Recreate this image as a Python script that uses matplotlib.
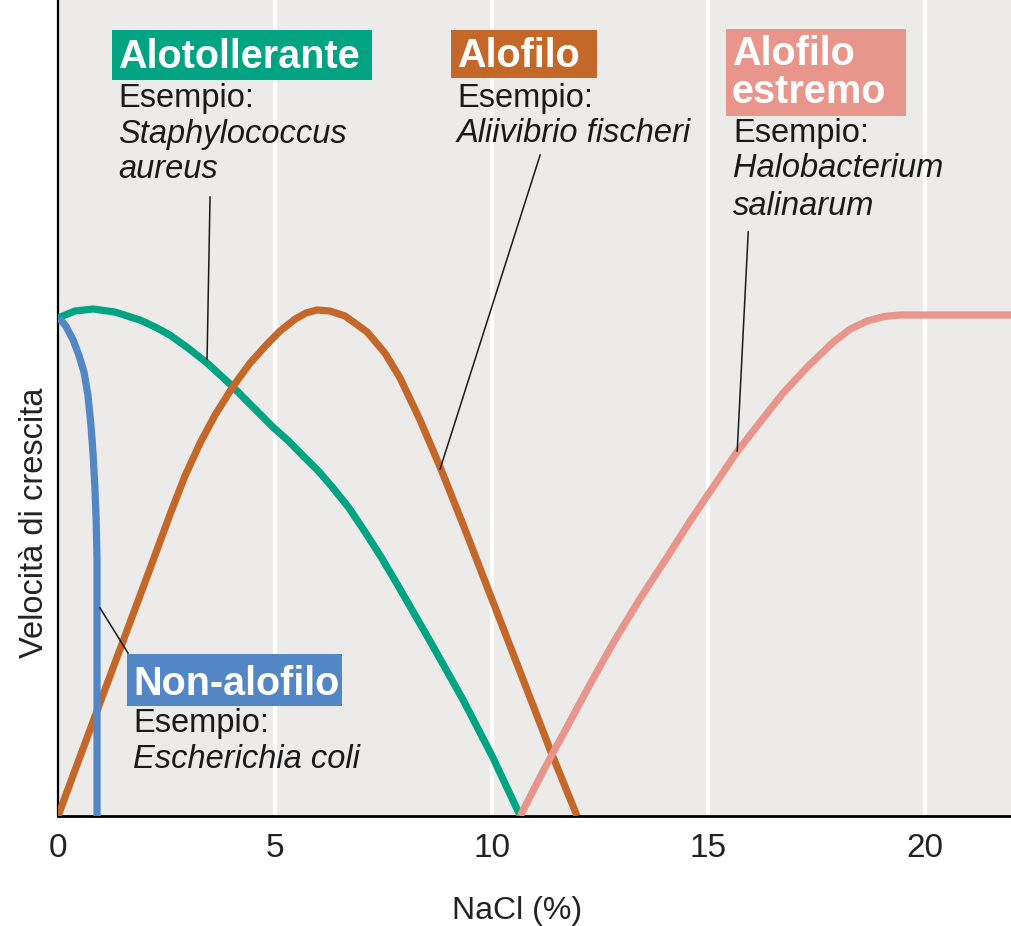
import matplotlib
matplotlib.use("Agg")
import matplotlib.pyplot as plt
from matplotlib.patches import Rectangle
from matplotlib.transforms import Affine2D

# ---- data ----
nonalo_x = [0.02, 0.18, 0.35, 0.48, 0.60, 0.69, 0.76, 0.81, 0.85, 0.88, 0.90, 0.90]
nonalo_y = [0.994, 0.978, 0.950, 0.920, 0.886, 0.840, 0.780, 0.721, 0.657, 0.591, 0.511, 0.0]

aloto_x = [0.0, 0.39, 0.81, 1.31, 1.89, 2.24, 2.58, 3.00, 3.44, 3.97, 4.43, 4.96, 5.31,
           5.65, 6.00, 6.34, 6.71, 7.08, 7.45, 7.82, 8.58, 9.34, 10.01, 10.66]
aloto_y = [0.994, 1.008, 1.012, 1.006, 0.990, 0.976, 0.960, 0.934, 0.904, 0.862, 0.822,
           0.776, 0.749, 0.719, 0.689, 0.655, 0.615, 0.567, 0.517, 0.463, 0.349, 0.232,
           0.120, 0.0]

alofilo_x = [0.0, 0.97, 2.12, 2.58, 2.93, 3.28, 3.62, 4.04, 4.43, 4.78, 5.12, 5.47, 5.72,
             5.97, 6.27, 6.62, 7.13, 7.54, 7.89, 8.35, 8.81, 9.39, 9.97, 10.66, 11.35, 11.97]
alofilo_y = [0.0, 0.226, 0.493, 0.601, 0.679, 0.745, 0.800, 0.858, 0.904, 0.938, 0.968,
             0.992, 1.004, 1.010, 1.008, 0.998, 0.966, 0.924, 0.874, 0.790, 0.697, 0.571,
             0.441, 0.287, 0.132, 0.0]

estremo_x = [10.66, 11.19, 11.74, 12.27, 12.80, 13.43, 14.05, 14.58, 14.97, 15.66, 16.19,
             16.72, 17.30, 17.88, 18.27, 18.66, 19.05, 19.42, 22.0]
estremo_y = [0.0, 0.090, 0.178, 0.263, 0.345, 0.435, 0.517, 0.589, 0.639, 0.727, 0.786,
             0.844, 0.898, 0.946, 0.972, 0.988, 0.997, 1.0, 1.0]

xticks = [0, 5, 10, 15, 20]
xlabel = "NaCl (%)"
ylabel = "Velocità di crescita"

# ---- style ----
W, H = 1012, 926
plt.rcParams['font.family'] = ['Liberation Sans', 'DejaVu Sans']
fig = plt.figure(figsize=(W / 100, H / 100), dpi=100)
ax = fig.add_axes([58 / W, (H - 816) / H, (W - 58) / W, 816 / H])

BG = '#EDEBE9'
C_GREEN = '#00A382'
C_ORANGE = '#C4682A'
C_PINK = '#E8958B'
C_BLUE = '#5386C5'

ax.set_facecolor(BG)
ax.set_xlim(0, 22)
ax.set_ylim(0, 816 / 501)
for g in xticks[1:]:
    ax.axvline(g, color='white', lw=3, zorder=0.5)

lw = 5.2
kw = dict(lw=lw, solid_capstyle='butt', solid_joinstyle='round')
ax.plot(aloto_x, aloto_y, color=C_GREEN, zorder=3, **kw)
ax.plot(alofilo_x, alofilo_y, color=C_ORANGE, zorder=3, **kw)
ax.plot(estremo_x, estremo_y, color=C_PINK, zorder=3, **kw)
ax.plot(nonalo_x, nonalo_y, color=C_BLUE, zorder=4, **kw)

for s in ['top', 'right']:
    ax.spines[s].set_visible(False)
ax.spines['left'].set_linewidth(1.6)
ax.spines['bottom'].set_linewidth(2.0)
ax.set_yticks([])
ax.set_xticks(xticks)
ax.set_xticklabels([str(t) for t in xticks], fontsize=24, color='#222222')
ax.tick_params(axis='x', length=0, pad=12)
ax.set_xlabel(xlabel, fontsize=23, color='#222222')
ax.xaxis.set_label_coords(0.481, -0.098)
ax.set_ylabel(ylabel, fontsize=23.5, color='#222222')
ax.yaxis.set_label_coords(-0.0084, 0.359)

# pixel transform for labels
px = Affine2D().scale(1 / W, -1 / H).translate(0, 1) + fig.transFigure


def to_data(x, y):
    return ((x - 58) / 43.35, (816 - y) / 501)


def leader(p0, p1):
    a = to_data(*p0)
    b = to_data(*p1)
    ax.plot([a[0], b[0]], [a[1], b[1]], color='#1a1a1a', lw=1.1, zorder=5, clip_on=False)


def box(x0, y0, x1, y1, color):
    fig.patches.append(Rectangle((x0, y0), x1 - x0, y1 - y0, transform=px,
                                 facecolor=color, edgecolor='none', zorder=2))


def title(x, y, s):
    fig.text(x, y, s, transform=px, fontsize=28.5, fontweight='bold', color='white',
             va='baseline', ha='left', zorder=3)


def body(x, y, s, italic=False):
    fig.text(x, y, s, transform=px, fontsize=23.5, color='#1a1a1a', va='baseline',
             ha='left', style='italic' if italic else 'normal', zorder=3)


# Alotollerante
box(112, 30, 372, 80, C_GREEN)
title(118, 68, "Alotollerante")
body(118, 107, "Esempio:")
body(118, 143, "Staphylococcus", True)
body(118, 178, "aureus", True)
leader((210, 197), (207, 359))

# Alofilo
box(451, 30, 597, 78, C_ORANGE)
title(457, 67, "Alofilo")
body(457, 107, "Esempio:")
body(457, 142, "Aliivibrio fischeri", True)
leader((540, 155), (440, 469))

# Alofilo estremo
box(726, 29, 906, 116, C_PINK)
title(732, 65, "Alofilo")
title(732, 103, "estremo")
body(733, 142, "Esempio:")
body(733, 177, "Halobacterium", True)
body(733, 215, "salinarum", True)
leader((748, 232), (737, 451))

# Non-alofilo
box(127, 654, 342, 706, C_BLUE)
title(133, 695, "Non-alofilo")
body(133, 732, "Esempio:")
body(133, 768, "Escherichia coli", True)
leader((100, 608), (128, 653))

fig.savefig("out.png", dpi=100)
